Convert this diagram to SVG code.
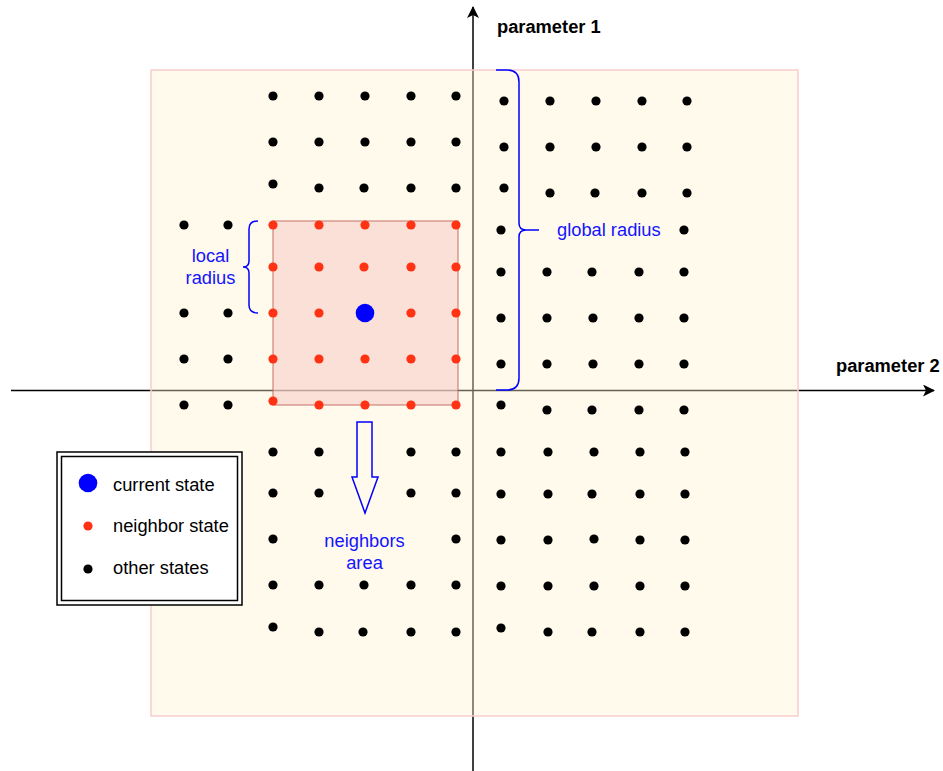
<svg xmlns="http://www.w3.org/2000/svg" width="943" height="771" viewBox="0 0 943 771">
<defs>
<style>
.k{fill:#000}
.r{fill:#ff3314}
.lbl{font-family:"Liberation Sans",Arial,sans-serif;font-size:18.3px;fill:#1414ff}
.leg{font-family:"Liberation Sans",Arial,sans-serif;font-size:18.3px;fill:#000}
.ax{font-family:"Liberation Sans",Arial,sans-serif;font-size:18.3px;font-weight:bold;fill:#000}
.brace{fill:none;stroke:#0000ff;stroke-width:1.5}
</style>
<marker id="ah" viewBox="0 0 12 12" refX="11" refY="6" markerWidth="12" markerHeight="12" markerUnits="userSpaceOnUse" orient="auto">
<path d="M0,0 L12,6 L0,12 L3,6 Z" fill="#000"/>
</marker>
</defs>
<rect width="943" height="771" fill="#fff"/>
<g id="connectors">
<line x1="473" y1="771" x2="473" y2="7" stroke="#000" stroke-width="1.5" marker-end="url(#ah)"/>
<line x1="11" y1="390.5" x2="934" y2="390.5" stroke="#000" stroke-width="1.5" marker-end="url(#ah)"/>
</g>
<g id="global-area">
<rect x="151" y="70" width="647" height="646" fill="#fff2cc" fill-opacity="0.4" stroke="#f8cecc" stroke-width="1.5"/>
</g>
<g id="local-area">
<rect x="273" y="221" width="185" height="184" fill="#f8cecc" fill-opacity="0.6" stroke="#b85450" stroke-opacity="0.55" stroke-width="1.5"/>
</g>
<g id="axis-labels">
<text class="ax" x="497" y="33">parameter 1</text>
<text class="ax" x="836" y="372">parameter 2</text>
</g>
<g id="other-states">
<circle class="k" cx="273" cy="96" r="4.6"/><circle class="k" cx="319" cy="96" r="4.6"/><circle class="k" cx="365" cy="96" r="4.6"/><circle class="k" cx="411" cy="96" r="4.6"/><circle class="k" cx="456" cy="96" r="4.6"/>
<circle class="k" cx="504" cy="101" r="4.6"/><circle class="k" cx="550" cy="101" r="4.6"/><circle class="k" cx="596" cy="101" r="4.6"/><circle class="k" cx="642" cy="101" r="4.6"/><circle class="k" cx="687" cy="101" r="4.6"/>
<circle class="k" cx="273" cy="142" r="4.6"/><circle class="k" cx="319" cy="142" r="4.6"/><circle class="k" cx="365" cy="142" r="4.6"/><circle class="k" cx="411" cy="142" r="4.6"/><circle class="k" cx="456" cy="142" r="4.6"/>
<circle class="k" cx="504" cy="147" r="4.6"/><circle class="k" cx="550" cy="147" r="4.6"/><circle class="k" cx="596" cy="147" r="4.6"/><circle class="k" cx="642" cy="147" r="4.6"/><circle class="k" cx="687" cy="147" r="4.6"/>
<circle class="k" cx="273" cy="184" r="4.6"/><circle class="k" cx="319" cy="188" r="4.6"/><circle class="k" cx="364" cy="188" r="4.6"/><circle class="k" cx="411" cy="188" r="4.6"/><circle class="k" cx="456" cy="188" r="4.6"/>
<circle class="k" cx="504" cy="188" r="4.6"/><circle class="k" cx="550" cy="193" r="4.6"/><circle class="k" cx="595" cy="193" r="4.6"/><circle class="k" cx="642" cy="193" r="4.6"/><circle class="k" cx="687" cy="193" r="4.6"/>
<circle class="k" cx="184" cy="225" r="4.6"/><circle class="k" cx="228" cy="225" r="4.6"/>
<circle class="k" cx="501" cy="230" r="4.6"/><circle class="k" cx="684" cy="230" r="4.6"/>
<circle class="k" cx="501" cy="272" r="4.6"/><circle class="k" cx="547" cy="272" r="4.6"/><circle class="k" cx="592" cy="272" r="4.6"/><circle class="k" cx="639" cy="272" r="4.6"/><circle class="k" cx="684" cy="272" r="4.6"/>
<circle class="k" cx="184" cy="313" r="4.6"/><circle class="k" cx="228" cy="313" r="4.6"/>
<circle class="k" cx="501" cy="318" r="4.6"/><circle class="k" cx="547" cy="318" r="4.6"/><circle class="k" cx="593" cy="318" r="4.6"/><circle class="k" cx="639" cy="318" r="4.6"/><circle class="k" cx="684" cy="318" r="4.6"/>
<circle class="k" cx="184" cy="359" r="4.6"/><circle class="k" cx="228" cy="359" r="4.6"/>
<circle class="k" cx="501" cy="364" r="4.6"/><circle class="k" cx="547" cy="364" r="4.6"/><circle class="k" cx="593" cy="364" r="4.6"/><circle class="k" cx="639" cy="364" r="4.6"/><circle class="k" cx="684" cy="364" r="4.6"/>
<circle class="k" cx="184" cy="405" r="4.6"/><circle class="k" cx="228" cy="405" r="4.6"/>
<circle class="k" cx="501" cy="405" r="4.6"/><circle class="k" cx="547" cy="410" r="4.6"/><circle class="k" cx="592" cy="410" r="4.6"/><circle class="k" cx="639" cy="410" r="4.6"/><circle class="k" cx="684" cy="410" r="4.6"/>
<circle class="k" cx="273" cy="452" r="4.6"/><circle class="k" cx="319" cy="452" r="4.6"/><circle class="k" cx="411" cy="452" r="4.6"/><circle class="k" cx="456" cy="452" r="4.6"/>
<circle class="k" cx="501" cy="452" r="4.6"/><circle class="k" cx="548" cy="452" r="4.6"/><circle class="k" cx="594" cy="452" r="4.6"/><circle class="k" cx="640" cy="452" r="4.6"/><circle class="k" cx="685" cy="452" r="4.6"/>
<circle class="k" cx="273" cy="493" r="4.6"/><circle class="k" cx="319" cy="493" r="4.6"/><circle class="k" cx="411" cy="493" r="4.6"/><circle class="k" cx="456" cy="493" r="4.6"/>
<circle class="k" cx="501" cy="494" r="4.6"/><circle class="k" cx="548" cy="494" r="4.6"/><circle class="k" cx="592" cy="494" r="4.6"/><circle class="k" cx="640" cy="494" r="4.6"/><circle class="k" cx="685" cy="494" r="4.6"/>
<circle class="k" cx="273" cy="539" r="4.6"/><circle class="k" cx="456" cy="539" r="4.6"/>
<circle class="k" cx="501" cy="540" r="4.6"/><circle class="k" cx="548" cy="540" r="4.6"/><circle class="k" cx="594" cy="539" r="4.6"/><circle class="k" cx="640" cy="540" r="4.6"/><circle class="k" cx="685" cy="540" r="4.6"/>
<circle class="k" cx="273" cy="585" r="4.6"/><circle class="k" cx="319" cy="585" r="4.6"/><circle class="k" cx="364" cy="585" r="4.6"/><circle class="k" cx="411" cy="585" r="4.6"/><circle class="k" cx="456" cy="585" r="4.6"/>
<circle class="k" cx="501" cy="586" r="4.6"/><circle class="k" cx="548" cy="586" r="4.6"/><circle class="k" cx="594" cy="586" r="4.6"/><circle class="k" cx="640" cy="586" r="4.6"/><circle class="k" cx="685" cy="586" r="4.6"/>
<circle class="k" cx="273" cy="627" r="4.6"/><circle class="k" cx="319" cy="632" r="4.6"/><circle class="k" cx="363" cy="632" r="4.6"/><circle class="k" cx="411" cy="632" r="4.6"/><circle class="k" cx="456" cy="632" r="4.6"/>
<circle class="k" cx="501" cy="628" r="4.6"/><circle class="k" cx="548" cy="632" r="4.6"/><circle class="k" cx="592" cy="632" r="4.6"/><circle class="k" cx="640" cy="632" r="4.6"/><circle class="k" cx="685" cy="632" r="4.6"/>
</g>
<g id="neighbor-states">
<circle class="r" cx="273" cy="225" r="4.6"/><circle class="r" cx="319" cy="225" r="4.6"/><circle class="r" cx="365" cy="225" r="4.6"/><circle class="r" cx="411" cy="225" r="4.6"/><circle class="r" cx="456" cy="225" r="4.6"/>
<circle class="r" cx="273" cy="267" r="4.6"/><circle class="r" cx="319" cy="267" r="4.6"/><circle class="r" cx="364" cy="267" r="4.6"/><circle class="r" cx="411" cy="267" r="4.6"/><circle class="r" cx="456" cy="267" r="4.6"/>
<circle class="r" cx="273" cy="313" r="4.6"/><circle class="r" cx="319" cy="313" r="4.6"/><circle class="r" cx="411" cy="313" r="4.6"/><circle class="r" cx="456" cy="313" r="4.6"/>
<circle class="r" cx="273" cy="359" r="4.6"/><circle class="r" cx="319" cy="359" r="4.6"/><circle class="r" cx="365" cy="359" r="4.6"/><circle class="r" cx="411" cy="359" r="4.6"/><circle class="r" cx="456" cy="359" r="4.6"/>
<circle class="r" cx="273" cy="401" r="4.6"/><circle class="r" cx="319" cy="405" r="4.6"/><circle class="r" cx="365" cy="405" r="4.6"/><circle class="r" cx="411" cy="405" r="4.6"/><circle class="r" cx="456" cy="405" r="4.6"/>
</g>
<g id="current-state">
<circle cx="365" cy="313" r="9.3" fill="#0000ff"/>
</g>
<g id="local-radius">
<path class="brace" d="M258,221 Q249,221 249,229 V261 Q249,267 243,267 Q249,267 249,273 V305 Q249,313 258,313"/>
<text class="lbl" x="210.5" y="262" text-anchor="middle">local</text>
<text class="lbl" x="210.5" y="284" text-anchor="middle">radius</text>
</g>
<g id="global-radius">
<path class="brace" d="M496,70 H507 Q519,70 519,82 V223 Q519,230 526,230 H539 M526,230 Q519,230 519,237 V378 Q519,390 507,390 H496"/>
<text class="lbl" x="557" y="236">global radius</text>
</g>
<g id="neighbors-area">
<path d="M357,422 H372 V477 H378 L365,513 L352,477 H357 Z" fill="none" stroke="#0000ff" stroke-width="1.5" stroke-linejoin="miter"/>
<text class="lbl" x="364.5" y="547" text-anchor="middle">neighbors</text>
<text class="lbl" x="364.5" y="569" text-anchor="middle">area</text>
</g>
<g id="legend">
<rect x="57" y="452" width="185" height="153" fill="#fff" stroke="#000" stroke-width="1.5"/>
<rect x="61.5" y="456.5" width="176" height="144" fill="none" stroke="#000" stroke-width="1.5"/>
<circle cx="88" cy="483" r="9.3" fill="#0000ff"/>
<circle class="r" cx="88" cy="526" r="4.6"/>
<circle class="k" cx="88" cy="569" r="4.6"/>
<text class="leg" x="113" y="491">current state</text>
<text class="leg" x="113" y="532">neighbor state</text>
<text class="leg" x="113" y="574">other states</text>
</g>
</svg>
